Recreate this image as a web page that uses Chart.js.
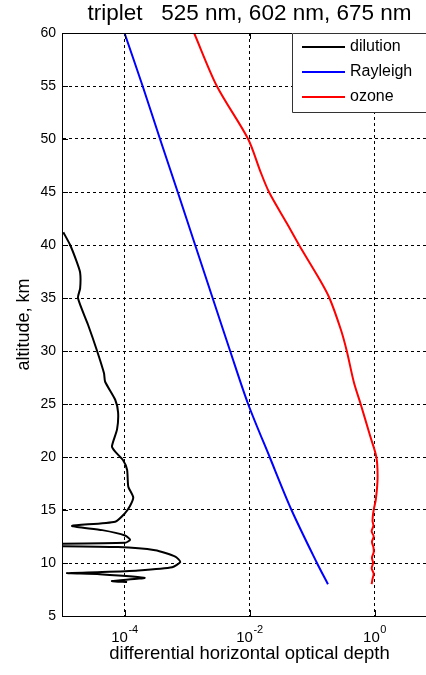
<!DOCTYPE html>
<html>
<head>
<meta charset="utf-8">
<script src="https://cdn.jsdelivr.net/npm/chart.js@4/dist/chart.umd.min.js"></script>
<style>
  html, body { margin: 0; padding: 0; background: #fff; overflow: hidden; }
  #wrap { width: 426px; height: 675px; overflow: hidden; }
</style>
</head>
<body>
<div id="wrap"><canvas id="chart" width="437" height="675"></canvas></div>
<script>
// altitude (km) and differential horizontal optical depth
const dilutionAlt = [41.2, 40, 38.5, 37.4, 35.9, 35, 32.5, 30.1, 27.9, 27.1,
    25.4, 24.2, 22.6, 21.0, 20.5, 19.7, 18.8, 17.2, 16.2, 15.4,
    14.7, 13.9, 13.5, 13.1, 12.6, 12.2, 11.9, 11.75, 11.65, 11.5,
    11.2, 10.6, 10.1, 9.6, 9.3, 9.15, 9.05, 8.95, 8.6, 8.3, 8.2];
const dilutionVal = [1.05e-5, 1.35e-5, 1.7e-5, 1.95e-5, 1.95e-5, 1.8e-5, 2.6e-5, 3.6e-5, 4.7e-5, 4.9e-5,
    7.1e-5, 7.9e-5, 7.6e-5, 6.3e-5, 7.1e-5, 9.5e-5, 1.1e-4, 1.15e-4, 1.38e-4, 1.23e-4,
    1.02e-4, 7.1e-5, 1.45e-5, 4.4e-5, 1.02e-4, 1.23e-4, 1.02e-4, 1e-6, 1e-6, 7.9e-5,
    3.1e-4, 6.5e-4, 7.8e-4, 5.8e-4, 1.66e-4, 4.4e-5, 1.2e-5, 4e-5, 2.1e-4, 6.3e-5, 1.1e-4];

const rayleighAlt = [60, 55, 50, 45, 40, 35, 30, 25, 20, 15, 10, 8];
const rayleighVal = [1.0e-4, 1.95e-4, 3.7e-4, 7.1e-4, 1.35e-3, 2.57e-3, 4.9e-3, 9.5e-3, 2.1e-2, 4.7e-2, 0.12, 0.18];

const ozoneAlt = [60, 55, 50, 47, 45, 42, 40, 37, 35, 32, 30, 27, 25, 22, 20, 18, 16, 15,
    14, 13.5, 13, 12.5, 12, 11.5, 11, 10.5, 10, 9.5, 9, 8.5, 8];
const ozoneVal = [1.3e-3, 3.0e-3, 9.5e-3, 1.48e-2, 2.05e-2, 4.0e-2, 6.2e-2, 0.125, 0.19, 0.29, 0.36, 0.47, 0.60, 0.85, 1.07, 1.12, 1.05, 0.97,
    0.93, 0.96, 0.9, 0.97, 0.91, 0.96, 0.97, 0.91, 0.95, 0.9, 0.97, 0.93, 0.9];

const xTicks = [1e-4, 1e-2, 1];
const xTickExp = ['-4', '-2', '0'];

const titleText = 'triplet   525 nm, 602 nm, 675 nm';

const toPoints = (alt, val) => alt.map((a, i) => ({ x: val[i], y: a }));

const FONT = "'Liberation Sans', Arial, sans-serif";
Chart.defaults.font.family = FONT;
Chart.defaults.color = '#000';

// axes box top edge, inside tick marks, title, x tick labels and a matlab-like legend
const boxPlugin = {
    id: 'box',
    afterDraw(chart) {
        const ctx = chart.ctx;
        const a = chart.chartArea;
        const xs = chart.scales.x, ys = chart.scales.y;
        ctx.save();
        ctx.strokeStyle = '#000';
        ctx.lineWidth = 1;
        ctx.beginPath();
        ctx.moveTo(a.left, a.top + 0.5);
        ctx.lineTo(a.right, a.top + 0.5);
        xTicks.forEach(v => {
            const px = Math.round(xs.getPixelForValue(v)) + 0.5;
            ctx.moveTo(px, a.bottom);
            ctx.lineTo(px, a.bottom - 6);
            ctx.moveTo(px, a.top);
            ctx.lineTo(px, a.top + 6);
        });
        for (let v = 10; v < 60; v += 5) {
            const py = Math.round(ys.getPixelForValue(v)) + 0.5;
            ctx.moveTo(a.left, py);
            ctx.lineTo(a.left + 6, py);
        }
        ctx.stroke();

        // title, centred on the plot
        ctx.fillStyle = '#000';
        ctx.textAlign = 'center';
        ctx.textBaseline = 'alphabetic';
        ctx.font = '22.5px ' + FONT;
        ctx.fillText(titleText, (a.left + a.right) / 2, 20);

        // x tick labels 10^n
        ctx.textAlign = 'left';
        xTicks.forEach((v, i) => {
            const px = xs.getPixelForValue(v);
            ctx.font = '15px ' + FONT;
            const wb = ctx.measureText('10').width;
            ctx.font = '11px ' + FONT;
            const we = ctx.measureText(xTickExp[i]).width;
            const x0 = px - (wb + we) / 2;
            ctx.font = '15px ' + FONT;
            ctx.fillText('10', x0, 642);
            ctx.font = '11px ' + FONT;
            ctx.fillText(xTickExp[i], x0 + wb + 0.5, 633);
        });

        // legend (its right side lies past the visible edge)
        const lx = 292, ly = a.top, rx = a.right, lh = 79;
        ctx.fillStyle = '#fff';
        ctx.fillRect(lx, ly, rx - lx, lh);
        ctx.strokeStyle = '#333';
        ctx.beginPath();
        ctx.moveTo(rx, ly + 0.5);
        ctx.lineTo(lx + 0.5, ly + 0.5);
        ctx.lineTo(lx + 0.5, ly + lh + 0.5);
        ctx.lineTo(rx, ly + lh + 0.5);
        ctx.stroke();
        ctx.font = '16px ' + FONT;
        ctx.textBaseline = 'middle';
        chart.data.datasets.forEach((ds, i) => {
            const y = ly + 14 + i * 25;
            ctx.strokeStyle = ds.borderColor;
            ctx.lineWidth = 2;
            ctx.beginPath();
            ctx.moveTo(302, y);
            ctx.lineTo(345, y);
            ctx.stroke();
            ctx.fillStyle = '#000';
            ctx.fillText(ds.label, 350, y);
        });
        ctx.restore();
    }
};

new Chart(document.getElementById('chart').getContext('2d'), {
    type: 'scatter',
    data: {
        datasets: [
            { label: 'dilution', data: toPoints(dilutionAlt, dilutionVal), borderColor: '#000000', tension: 0.2 },
            { label: 'Rayleigh', data: toPoints(rayleighAlt, rayleighVal), borderColor: '#0000ff', tension: 0.3 },
            { label: 'ozone', data: toPoints(ozoneAlt, ozoneVal), borderColor: '#ff0000', tension: 0.3 }
        ]
    },
    options: {
        responsive: false,
        animation: false,
        showLine: true,
        elements: {
            point: { radius: 0, hoverRadius: 0 },
            line: { borderWidth: 2 }
        },
        layout: { padding: { top: 33 } },
        plugins: {
            legend: { display: false },
            tooltip: { enabled: false },
            title: { display: false }
        },
        scales: {
            x: {
                type: 'logarithmic',
                min: 1e-5,
                max: 10,
                afterBuildTicks: (scale) => {
                    scale.ticks = xTicks.map(v => ({ value: v }));
                },
                afterFit: (scale) => { scale.height = 59; },
                ticks: { display: false },
                grid: { color: '#000', lineWidth: 1, drawTicks: false },
                border: { display: true, color: '#000', width: 1, dash: [3, 3] },
                title: {
                    display: true,
                    text: 'differential horizontal optical depth',
                    font: { size: 18.5 },
                    padding: { top: 0, bottom: 10 }
                }
            },
            y: {
                min: 5,
                max: 60,
                afterFit: (scale) => { scale.width = 62; },
                ticks: {
                    stepSize: 5,
                    padding: 6,
                    font: { size: 14 }
                },
                grid: { color: '#000', lineWidth: 1, drawTicks: false },
                border: { display: true, color: '#000', width: 1, dash: [3, 3] },
                title: {
                    display: true,
                    text: 'altitude, km',
                    font: { size: 18 },
                    padding: { top: 13, bottom: 0 }
                }
            }
        }
    },
    plugins: [boxPlugin]
});
</script>
</body>
</html>
